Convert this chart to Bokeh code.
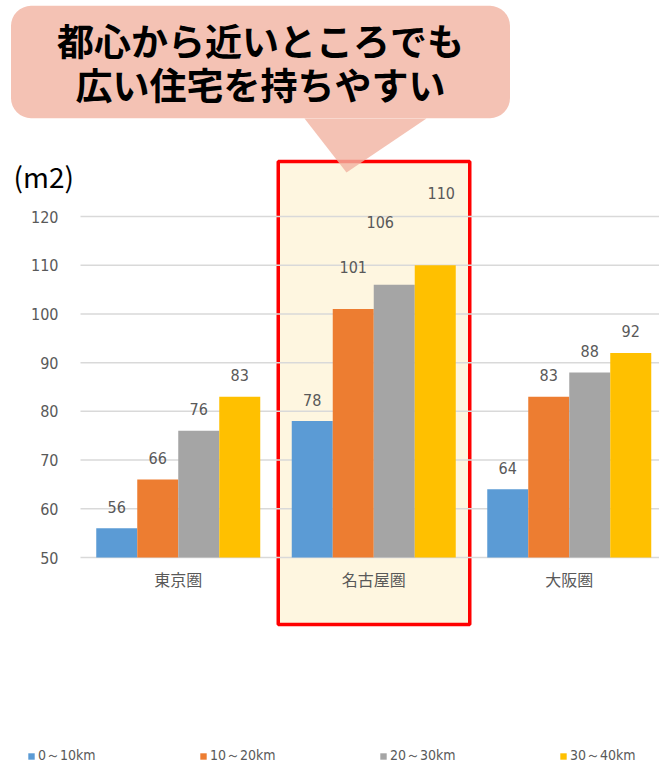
from bokeh.plotting import figure
from bokeh.models import ColumnDataSource, Range1d, FixedTicker, Legend, LegendItem, Label
from bokeh.core.properties import value
from bokeh.embed import file_html
from bokeh.resources import INLINE

# ---------------- data ----------------
regions = ["東京圏", "名古屋圏", "大阪圏"]
series_names = ["0～10km", "10～20km", "20～30km", "30～40km"]
area_0_10 = [56, 78, 64]
area_10_20 = [66, 101, 83]
area_20_30 = [76, 106, 88]
area_30_40 = [83, 110, 92]
y_ticks = [50, 60, 70, 80, 90, 100, 110, 120]
highlight_region = "名古屋圏"
unit_label = "(m2)"
callout_text = "都心から近いところでも\n広い住宅を持ちやすい"

series_values = [area_0_10, area_10_20, area_20_30, area_30_40]

# ---------------- style ----------------
colors = ["#5B9BD5", "#ED7D31", "#A5A5A5", "#FFC000"]
TEXT_GRAY = "#595959"
NUM_FONT = "DejaVu Sans Condensed, Liberation Sans Narrow, Roboto"
CJK_FONT = "Noto Sans CJK JP"

W, H = 659, 765
PLOT_L, PLOT_R = 80, 659                 # plot area columns (px)
BASE_PX, TOP_PX = 557, 216               # pixel rows of 50 and 120
PX_PER_UNIT = (BASE_PX - TOP_PX) / (y_ticks[-1] - y_ticks[0])
PITCH = 195.5                            # px per category
FIRST_CENTER = 177.75
BAR_W = 41 / PITCH


def dx(px):
    return (px - FIRST_CENTER) / PITCH


def dy(py):
    return y_ticks[0] + (BASE_PX - py) / PX_PER_UNIT


p = figure(width=W, height=H,
           x_range=Range1d(dx(0), dx(W)),
           y_range=Range1d(dy(H), dy(0)),
           output_backend="svg", toolbar_location=None,
           x_axis_location=None,
           min_border_left=0, min_border_right=0,
           min_border_top=0, min_border_bottom=0)
p.outline_line_color = None
p.background_fill_color = "white"
p.border_fill_color = "white"

# y axis, pinned at the left edge of the plot area
p.yaxis.fixed_location = dx(PLOT_L)
p.yaxis.ticker = FixedTicker(ticks=y_ticks)
p.yaxis.axis_line_color = None
p.yaxis.major_tick_line_color = None
p.yaxis.minor_tick_line_color = None
p.yaxis.major_label_standoff = 16
p.yaxis.major_label_text_font = NUM_FONT
p.yaxis.major_label_text_font_size = "16px"
p.yaxis.major_label_text_color = TEXT_GRAY
p.ygrid.visible = False
p.xgrid.visible = False

# highlight box around one region
hi = regions.index(highlight_region)
p.quad(left=[hi + dx(277.75) - dx(373.25)], right=[hi + dx(469.25) - dx(373.25)],
       top=[dy(161)], bottom=[dy(624)],
       fill_color="#FEF6E0", line_color="#FF0000", line_width=3.5, level="image")

# horizontal gridlines over the plot area
p.segment(x0=[dx(PLOT_L)] * len(y_ticks), x1=[dx(PLOT_R)] * len(y_ticks),
          y0=y_ticks, y1=y_ticks, line_color="#D9D9D9", line_width=1.5,
          level="underlay")

# bars
bar_renderers = []
for k, vals in enumerate(series_values):
    xs = [i + (k - 1.5) * BAR_W for i in range(len(regions))]
    r = p.vbar(x=xs, top=vals, bottom=y_ticks[0], width=BAR_W,
               fill_color=colors[k], line_color=None)
    bar_renderers.append(r)

# data labels
lab_x, lab_y, lab_t, lab_dx, lab_dy = [], [], [], [], []
nudges = {(1, 1): (0, -21), (1, 2): (-14, -41), (1, 3): (6, -51)}
for k, vals in enumerate(series_values):
    for i, v in enumerate(vals):
        ndx, ndy = nudges.get((i, k), (0, 0))
        lab_x.append(i + (k - 1.5) * BAR_W)
        lab_y.append(v)
        lab_t.append(str(v))
        lab_dx.append(ndx)
        lab_dy.append(-21.5 + ndy)
src = ColumnDataSource(dict(x=lab_x, y=lab_y, t=lab_t, ox=lab_dx, oy=lab_dy))
p.text(x="x", y="y", text="t", x_offset="ox", y_offset="oy", source=src,
       text_align="center", text_baseline="middle",
       text_font=value(NUM_FONT), text_font_size="16px", text_color=TEXT_GRAY)

# category labels
p.text(x=list(range(len(regions))), y=[y_ticks[0]] * len(regions), text=regions,
       y_offset=21, text_align="center", text_baseline="middle",
       text_font=value(CJK_FONT), text_font_size="16px", text_color=TEXT_GRAY)

# callout pointer
p.patch(x=[dx(304), dx(426), dx(346)], y=[dy(118), dy(118), dy(172)],
        fill_color="#F1B3A1", fill_alpha=0.8, line_color=None)

# callout body
p.add_layout(Label(x=260, y=H - 61.5, x_units="screen", y_units="screen",
                   text=callout_text, text_align="center", text_baseline="middle",
                   text_font=CJK_FONT, text_font_style="bold", text_font_size="37px",
                   text_line_height=0.82, text_color="black",
                   background_fill_color="#F1B3A1", background_fill_alpha=0.8,
                   border_radius=20,
                   padding=dict(left=46, right=46, top=7, bottom=7)))

# unit label
p.add_layout(Label(x=13, y=H - 175, x_units="screen", y_units="screen",
                   text=unit_label, text_align="left", text_baseline="middle",
                   text_font=CJK_FONT, text_font_size="28px", text_color="black"))

# legends
legend_x = [27, 199, 379, 559]
for k, name in enumerate(series_names):
    leg = Legend(items=[LegendItem(label=name, renderers=[bar_renderers[k]])],
                 location=(legend_x[k], 0), orientation="horizontal",
                 padding=0, margin=0, spacing=0, border_line_color=None,
                 background_fill_alpha=0, glyph_width=8, glyph_height=8,
                 label_standoff=3, label_height=10,
                 label_text_font=NUM_FONT, label_text_font_size="14px",
                 label_text_color=TEXT_GRAY)
    p.add_layout(leg)

open("out.html", "w").write(file_html(p, INLINE))
